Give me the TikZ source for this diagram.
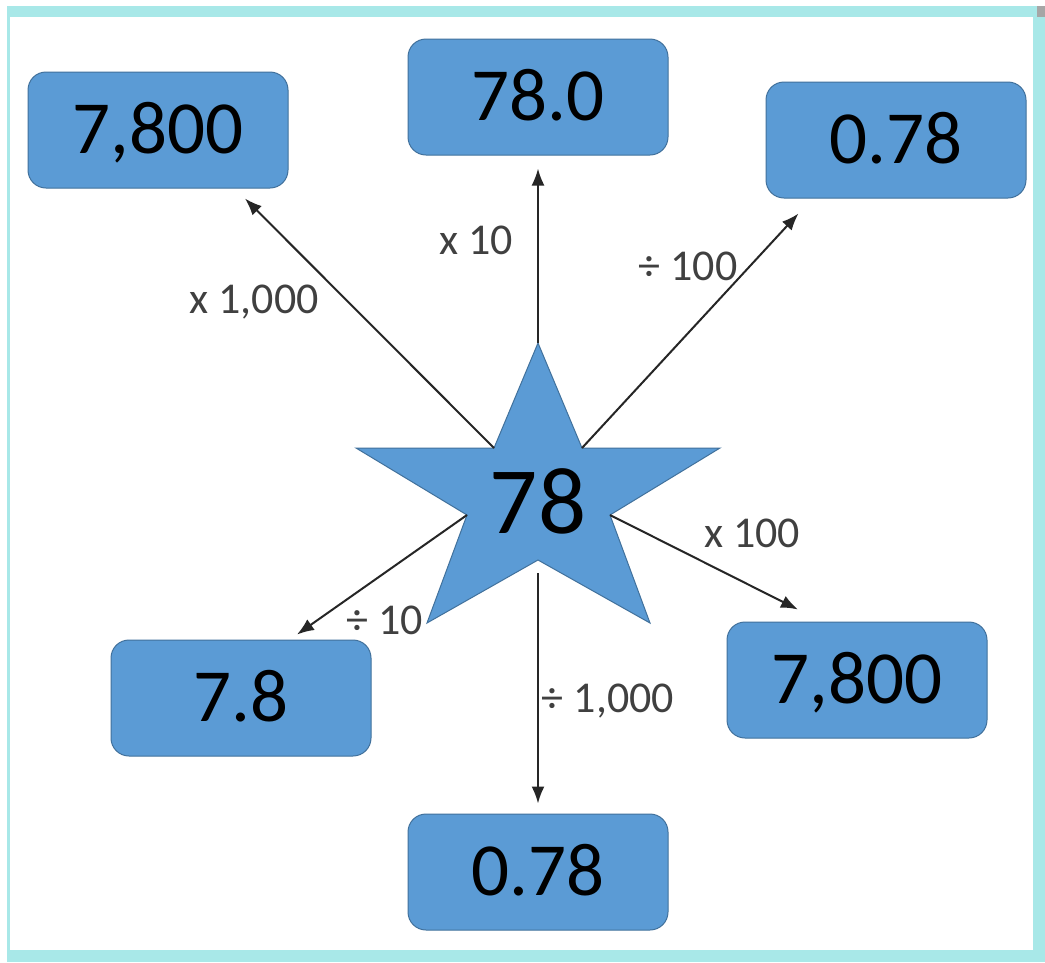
\documentclass[tikz,border=0pt]{standalone}
\usepackage{fontspec}
\setmainfont{Carlito}
\usetikzlibrary{shapes,arrows.meta,positioning,calc}
\definecolor{boxblue}{RGB}{91,155,213}
\definecolor{boxedge}{RGB}{65,113,156}
\definecolor{framecyan}{RGB}{168,232,232}
\definecolor{labelgray}{RGB}{64,64,64}

\begin{document}
\begin{tikzpicture}[x=1pt,y=-1pt,
		numbox/.style={draw=boxedge, fill=boxblue, line width=1pt, rounded corners=18pt,
			minimum width=260pt, minimum height=116pt, inner sep=0pt,
			font=\fontsize{75}{80}\selectfont, text height=47pt, text depth=0pt},
		oplabel/.style={text=labelgray, inner sep=0pt, font=\fontsize{44}{50}\selectfont,
			text height=28pt, text depth=0pt},
		conv/.style={line width=2pt, draw=black!85, -{Latex[length=17pt,width=13pt]}}]
			\useasboundingbox (0,0) rectangle (1045,962);
			\fill[framecyan] (7,6) rectangle (1045,962);
			\fill[white] (10,17) rectangle (1033,950);
			\fill[gray!70] (1037,6) rectangle (1045,17);
			\coordinate (sTop) at (538,343);
			\coordinate (sUR) at (582,448);
			\coordinate (sRight) at (720,448);
			\coordinate (sLR) at (610,515);
			\coordinate (sBR) at (650,623);
			\coordinate (sBot) at (538,560);
			\coordinate (sBL) at (427,623);
			\coordinate (sLL) at (467,515);
			\coordinate (sLeft) at (356,448);
			\coordinate (sUL) at (494,448);
			\filldraw[fill=boxblue, draw=boxedge, line width=1pt] (sTop) -- (sUR) -- (sRight) -- (sLR) -- (sBR) -- (sBot) -- (sBL) -- (sLL) -- (sLeft) -- (sUL) -- cycle;
			\node[inner sep=0pt, font=\fontsize{95}{100}\selectfont, text height=60pt, text depth=0pt] (start) at (538,503) {78};
			\node[numbox] (thou) at (158,130) {7,800};
			\node[numbox] (ten) at (538,97) {78.0};
			\node[numbox] (hundredth) at (896,140) {0.78};
			\node[numbox] (tenth) at (241,698) {7.8};
			\node[numbox] (hund) at (857,680) {7,800};
			\node[numbox] (thousandth) at (538,872) {0.78};
			\draw[conv] (sTop) -- ($(ten.south)+(0,13)$);
			\draw[conv] (sUL) -- ($(thou.south)+(87,10)$);
			\draw[conv] (sUR) -- ($(hundredth.south west)+(33,15)$);
			\draw[conv] (sLR) -- ($(hund.north)+(-59,-12)$);
			\draw[conv] (sLL) -- ($(tenth.north)+(56,-5)$);
			\draw[conv, shorten <=13pt] (sBot) -- ($(thousandth.north)+(0,-10)$);
			\node[oplabel] (lthou) at (254,299) {x 1,000};
			\node[oplabel] (lten) at (476,240) {x 10};
			\node[oplabel] (lhundredth) at (688,266) {÷ 100};
			\node[oplabel] (lhund) at (752,533) {x 100};
			\node[oplabel] (ltenth) at (385,620) {÷ 10};
			\node[oplabel] (lthousandth) at (608,698) {÷ 1,000};
		\end{tikzpicture}
\end{document}
